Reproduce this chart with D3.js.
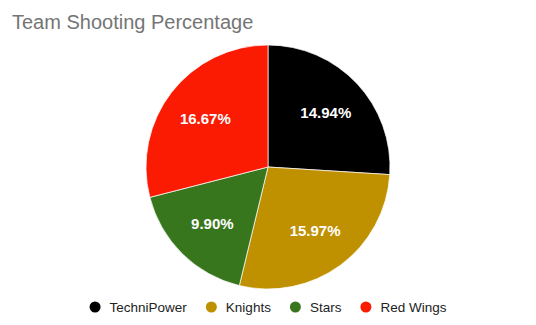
<!DOCTYPE html>
<html>
<head>
<meta charset="utf-8">
<script src="https://cdn.jsdelivr.net/npm/d3@7"></script>
<style>
  body { margin: 0; background: #fff; }
</style>
</head>
<body>
<div id="chart"></div>
<script>
// data
let teams = ["TechniPower", "Knights", "Stars", "Red Wings"];
let shooting = [14.94, 15.97, 9.90, 16.67];
let colors = ["#000000", "#bf9000", "#38761d", "#fb1a02"];

let width = 536;
let height = 325;
let cx = 268, cy = 167;
let radius = 122;

let svg = d3.select("#chart")
    .append("svg")
    .attr("width", width)
    .attr("height", height)
    .style("font-family", "Arial, 'Liberation Sans', sans-serif");

// title
svg.append("text")
    .attr("x", 12)
    .attr("y", 29)
    .attr("fill", "#757575")
    .style("font-size", "20px")
    .text("Team Shooting Percentage");

let data = teams.map((t, i) => ({team: t, value: shooting[i], color: colors[i]}));

let pie = d3.pie()
    .sort(null)
    .value(d => d.value);
let data_ready = pie(data);

let arcGenerator = d3.arc()
    .innerRadius(0)
    .outerRadius(radius);

let labelArc = d3.arc()
    .innerRadius(radius * 0.65)
    .outerRadius(radius * 0.65);

let g = svg.append("g")
    .attr("transform", "translate(" + cx + "," + cy + ")");

g.selectAll("path")
    .data(data_ready)
    .enter()
    .append("path")
    .attr("d", arcGenerator)
    .attr("fill", d => d.data.color)
    .attr("stroke", "white")
    .style("stroke-width", "0.7px");

g.selectAll("text")
    .data(data_ready)
    .enter()
    .append("text")
    .text(d => d.data.value.toFixed(2) + "%")
    .attr("transform", d => "translate(" + labelArc.centroid(d) + ")")
    .attr("dy", "0.35em")
    .style("text-anchor", "middle")
    .style("font-size", "15px")
    .style("font-weight", "bold")
    .attr("fill", "white");

// legend
let legend = svg.append("g");
let x = 0;
data.forEach((d, i) => {
    let item = legend.append("g").attr("transform", "translate(" + x + ",0)");
    item.append("circle")
        .attr("cx", 5.5)
        .attr("cy", 0)
        .attr("r", 5.5)
        .attr("fill", d.color);
    let t = item.append("text")
        .attr("x", 20)
        .attr("y", 0)
        .attr("dy", "0.35em")
        .attr("fill", "#222")
        .style("font-size", "13.5px")
        .text(d.team);
    let w = t.node().getComputedTextLength();
    x += 20 + w + 19;
});
let totalW = x - 19;
legend.attr("transform", "translate(" + ((width - totalW) / 2) + ",307)");
</script>
</body>
</html>
